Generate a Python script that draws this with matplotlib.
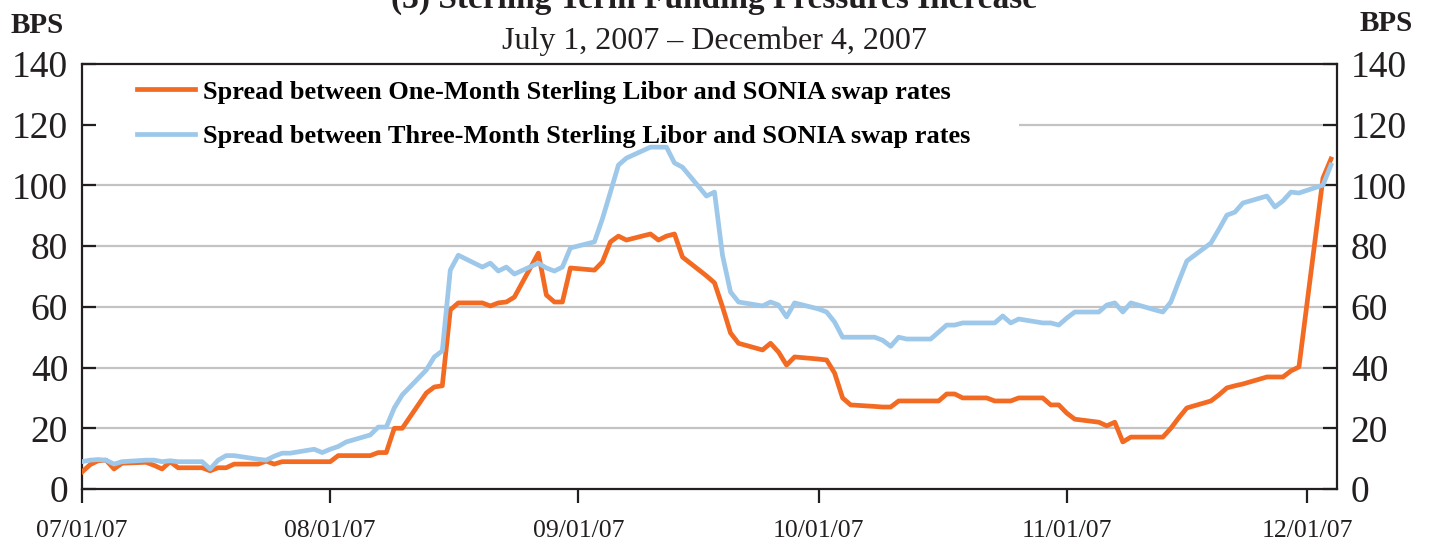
import matplotlib
matplotlib.use("Agg")
import matplotlib.pyplot as plt
import matplotlib.dates as mdates
from matplotlib.patches import Rectangle
import pandas as pd

# -----------------------------
# Data (bps)
# -----------------------------
JUL = [1, 2, 3, 4, 5, 6, 9, 10, 11, 12, 13, 16, 17, 18, 19, 20, 23, 24, 25, 26, 27, 30, 31]
AUG = [1, 2, 3, 6, 7, 8, 9, 10, 13, 14, 15, 16, 17, 20, 21, 22, 23, 24, 27, 28, 29, 30, 31]
SEP = [3, 4, 5, 6, 7, 10, 11, 12, 13, 14, 17, 18, 19, 20, 21, 24, 25, 26, 27, 28]
OCT = [1, 2, 3, 4, 5, 8, 9, 10, 11, 12, 15, 16, 17, 18, 19, 22, 23, 24, 25, 26, 29, 30, 31]
NOV = [1, 2, 5, 6, 7, 8, 9, 12, 13, 14, 15, 16, 19, 20, 21, 22, 23, 26, 27, 28, 29, 30]
DEC = [3, 4]

dates = ([f"2007-07-{d:02d}" for d in JUL] + [f"2007-08-{d:02d}" for d in AUG]
         + [f"2007-09-{d:02d}" for d in SEP] + [f"2007-10-{d:02d}" for d in OCT]
         + [f"2007-11-{d:02d}" for d in NOV] + [f"2007-12-{d:02d}" for d in DEC])

one_month = [
    # Jul
    5.6, 8.0, 9.3, 9.5, 6.6, 8.5, 8.8, 7.8, 6.6, 9.0, 7.0, 7.0, 6.0, 7.0, 7.0, 8.2, 8.2, 9.2, 8.2, 9.0, 9.0, 9.0, 9.0,
    # Aug
    9.0, 11.0, 11.0, 11.0, 12.0, 12.0, 20.0, 20.0, 31.6, 33.6, 34.0, 59.0, 61.3, 61.3, 60.3, 61.3, 61.6, 63.2, 77.7,
    63.9, 61.6, 61.6, 72.8,
    # Sep
    72.1, 74.8, 81.4, 83.3, 82.0, 84.0, 82.0, 83.3, 84.0, 76.4, 70.2, 67.9, 60.0, 51.4, 48.0, 45.8, 48.0, 45.1, 40.8, 43.5,
    # Oct
    42.8, 42.5, 38.2, 30.0, 27.7, 27.2, 27.0, 27.0, 29.0, 29.0, 29.0, 29.0, 31.3, 31.3, 30.0, 30.0, 29.0, 29.0, 29.0,
    30.0, 30.0, 27.7, 27.7,
    # Nov
    25.0, 23.0, 22.0, 20.8, 22.0, 15.5, 17.1, 17.1, 17.1, 20.0, 23.5, 26.7, 29.0, 31.0, 33.3, 34.0, 34.6, 36.9, 36.9,
    36.9, 38.9, 40.2,
    # Dec
    102.4, 108.7,
]

three_month = [
    # Jul
    9.0, 9.5, 9.7, 9.5, 8.2, 9.0, 9.5, 9.5, 9.0, 9.3, 9.0, 9.0, 6.6, 9.5, 11.0, 11.0, 9.8, 9.5, 10.8, 11.8, 11.8, 13.1, 12.0,
    # Aug
    13.1, 14.0, 15.5, 17.8, 20.4, 20.4, 26.7, 31.0, 39.2, 43.5, 45.5, 72.1, 77.0, 73.1, 74.4, 71.8, 73.1, 70.8, 74.4,
    72.8, 71.8, 73.1, 79.4,
    # Sep
    81.4, 89.0, 97.8, 106.7, 109.0, 112.6, 112.6, 112.6, 107.4, 106.0, 96.5, 97.8, 77.0, 64.9, 61.6, 60.3, 61.6, 60.6,
    56.7, 61.3,
    # Oct
    59.3, 58.3, 55.0, 50.0, 50.0, 50.0, 49.0, 47.0, 50.0, 49.4, 49.4, 51.7, 54.0, 54.0, 54.7, 54.7, 54.7, 57.0, 54.7,
    56.0, 54.7, 54.7, 54.0,
    # Nov
    56.3, 58.3, 58.3, 60.6, 61.3, 58.3, 61.3, 59.0, 58.3, 61.6, 68.5, 75.1, 81.0, 85.5, 90.2, 91.2, 94.2, 96.5, 92.9,
    94.9, 97.8, 97.5,
    # Dec
    100.1, 106.7,
]

labels = ["Spread between One-Month Sterling Libor and SONIA swap rates",
          "Spread between Three-Month Sterling Libor and SONIA swap rates"]
y_ticks = [0, 20, 40, 60, 80, 100, 120, 140]
x_ticks = ["2007-07-01", "2007-08-01", "2007-09-01", "2007-10-01", "2007-11-01", "2007-12-01"]

ORANGE = "#F36A22"
BLUE = "#9DC8EA"
GRID = "#C3C3C3"
INK = "#231F20"

plt.rcParams["font.family"] = ["Liberation Serif", "DejaVu Serif"]

x = pd.to_datetime(dates)

fig = plt.figure(figsize=(14.29, 5.44), dpi=100)
ax = fig.add_axes([0.0574, 0.1011, 0.8782, 0.7813])

ax.plot(x, one_month, color=ORANGE, lw=3.4, label=labels[0], zorder=3)
ax.plot(x, three_month, color=BLUE, lw=3.4, label=labels[1], zorder=3)

ax.set_ylim(0, 140)
ax.set_xlim(pd.Timestamp("2007-07-01"), pd.Timestamp("2007-12-04 18:00"))
ax.set_yticks(y_ticks)
ax.set_xticks(pd.to_datetime(x_ticks))
ax.xaxis.set_major_formatter(mdates.DateFormatter("%m/%d/%y"))

for v in y_ticks[1:-1]:
    ax.axhline(v, color=GRID, lw=1.6, zorder=1)

# white box behind the legend text
ax.add_patch(Rectangle((0.002, 0.79), 0.745, 0.208, transform=ax.transAxes,
                       facecolor="white", edgecolor="none", zorder=1.5))

for s in ax.spines.values():
    s.set_linewidth(1.6)
    s.set_color(INK)

ax.tick_params(axis="y", direction="in", length=10, width=1.6, left=True, right=True,
               labelleft=True, labelright=True, labelsize=27, pad=10, colors=INK)
ax.tick_params(axis="x", direction="out", length=10, width=1.6, labelsize=18.5, pad=12,
               colors=INK)

leg = ax.legend(loc="upper left", bbox_to_anchor=(0.0438, 0.962), frameon=False,
                borderpad=0, borderaxespad=0, handlelength=2.2, handletextpad=0.32,
                labelspacing=0.8, prop={"weight": "bold", "size": 19})

fig.text(0.5, 0.985, "(3) Sterling Term Funding Pressures Increase", ha="center", va="baseline",
         fontsize=24, fontweight="bold", color=INK)
fig.text(0.5, 0.91, "July 1, 2007 \u2013 December 4, 2007", ha="center", va="baseline",
         fontsize=23, color=INK)
fig.text(0.026, 0.939, "BPS", ha="center", va="baseline", fontsize=21, fontweight="bold", color=INK)
fig.text(0.97, 0.943, "BPS", ha="center", va="baseline", fontsize=21, fontweight="bold", color=INK)

fig.savefig("out.png", dpi=100)
